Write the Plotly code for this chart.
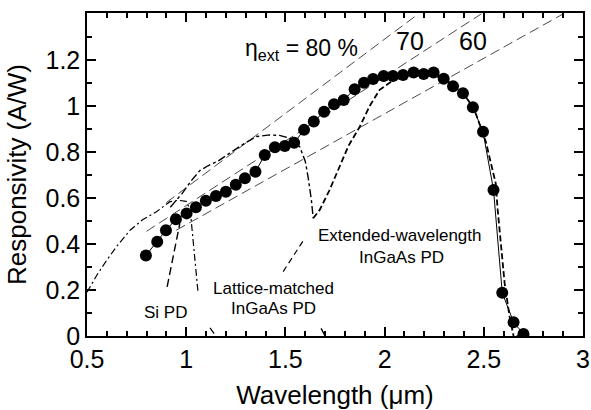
import plotly.graph_objects as go

# ---- data ----
wavelength = [0.797, 0.854, 0.898, 0.948, 1.002, 1.049, 1.099, 1.150, 1.200, 1.250,
              1.296, 1.349, 1.396, 1.447, 1.497, 1.544, 1.594, 1.643, 1.695, 1.745,
              1.794, 1.849, 1.896, 1.942, 1.995, 2.042, 2.093, 2.146, 2.197, 2.247,
              2.298, 2.345, 2.395, 2.445, 2.496, 2.549, 2.593, 2.650, 2.700]
responsivity = [0.350, 0.410, 0.460, 0.507, 0.533, 0.560, 0.588, 0.609, 0.627, 0.657,
                0.686, 0.714, 0.787, 0.820, 0.826, 0.840, 0.896, 0.932, 0.975, 1.007,
                1.026, 1.073, 1.101, 1.117, 1.130, 1.130, 1.135, 1.145, 1.139, 1.145,
                1.118, 1.086, 1.055, 0.994, 0.888, 0.635, 0.188, 0.060, 0.009]
fit_tail_x = [2.700, 2.664]
fit_tail_y = [0.009, 0.0]

eta80_x = [0.90, 2.17]
eta80_y = [0.58, 1.40]
eta70_x = [0.80, 2.487]
eta70_y = [0.455, 1.40]
eta60_x = [0.95, 2.90]
eta60_y = [0.46, 1.40]

si_x = [0.50, 0.55, 0.60, 0.65, 0.717, 0.78, 0.85, 0.918, 0.96, 1.00, 1.02, 1.04, 1.06, None, 1.12, 1.15]
si_y = [0.19, 0.265, 0.33, 0.39, 0.46, 0.505, 0.54, 0.584, 0.59, 0.585, 0.55, 0.38, 0.186, None, 0.035, 0.0]

lm_x = [0.92, 0.98, 1.03, 1.07, 1.11, 1.16, 1.22, 1.29, 1.354, 1.42, 1.47, 1.522,
        1.572, 1.600, 1.614, 1.631, 1.640, None, 1.68, 1.70]
lm_y = [0.56, 0.62, 0.68, 0.72, 0.74, 0.76, 0.795, 0.835, 0.867, 0.874, 0.872, 0.86,
        0.823, 0.76, 0.693, 0.591, 0.512, None, 0.033, 0.0]

ext_x = [1.640, 1.673, 1.72, 1.774, 1.82, 1.875, 1.925, 1.975, 2.04, 2.10, 2.20, 2.30,
         2.40, 2.45, 2.51, 2.56, 2.57, 2.605, 2.63, 2.65]
ext_y = [0.512, 0.548, 0.63, 0.736, 0.83, 0.91, 1.00, 1.07, 1.11, 1.13, 1.14, 1.12,
         1.05, 0.99, 0.845, 0.664, 0.548, 0.229, 0.084, 0.0]

si_ptr_x = [0.904, 0.968]
si_ptr_y = [0.214, 0.49]
lm_ptr_x = [1.489, 1.598]
lm_ptr_y = [0.28, 0.425]

x_range = [0.5, 3.0]
y_range = [0.0, 1.404]
x_major_ticks = [0.5, 1.0, 1.5, 2.0, 2.5, 3.0]
x_tick_text = ["0.5", "1", "1.5", "2", "2.5", "3"]
y_major_ticks = [0, 0.2, 0.4, 0.6, 0.8, 1.0, 1.2]
y_tick_text = ["0", "0.2", "0.4", "0.6", "0.8", "1", "1.2"]
x_minor_step = 0.1
y_minor_step = 0.1

FONT = "Liberation Sans, Arial, sans-serif"
fig = go.Figure()

def line(x, y, dash, width=1.0, color="black"):
    fig.add_trace(go.Scatter(x=x, y=y, mode="lines", connectgaps=False,
                             line=dict(color=color, width=width, dash=dash),
                             showlegend=False, hoverinfo="skip"))

for ex, ey in [(eta80_x, eta80_y), (eta70_x, eta70_y), (eta60_x, eta60_y)]:
    line(ex, ey, "10px,5px", 0.9, "#333")

line(si_x, si_y, "7px,3px,2px,3px", 1.2)
line(lm_x, lm_y, "8px,3px,3px,3px", 1.4)
line(ext_x, ext_y, "6px,3px", 1.8)
line(si_ptr_x, si_ptr_y, "8px,4px", 1.4)
line(lm_ptr_x, lm_ptr_y, "6px,4px", 1.2)
line(fit_tail_x, fit_tail_y, "solid", 1.0)

fig.add_trace(go.Scatter(x=wavelength, y=responsivity, mode="lines+markers",
                         line=dict(color="black", width=1),
                         marker=dict(symbol="circle", size=12, color="black"),
                         showlegend=False))

def label(text, x, y, size=17, anchor="center"):
    fig.add_annotation(x=x, y=y, text=text, showarrow=False, xanchor=anchor,
                       yanchor="middle", font=dict(family=FONT, size=size, color="black"))

label("Si PD", 0.898, 0.10)
label("Lattice-matched", 1.442, 0.208)
label("InGaAs PD", 1.442, 0.12)
label("Extended-wavelength", 2.076, 0.435)
label("InGaAs PD", 2.085, 0.341)
label("η<sub>ext</sub> = 80 %", 1.285, 1.245, 23, "left")
label("70", 2.126, 1.283, 25)
label("60", 2.444, 1.283, 25)

tickfont = dict(family=FONT, size=25, color="black")
common = dict(showline=True, linecolor="black", linewidth=1.5, mirror="ticks",
              ticks="inside", ticklen=9, tickwidth=2, tickcolor="black",
              showgrid=False, zeroline=False, tickfont=tickfont)

fig.update_layout(
    template="none",
    xaxis=dict(range=x_range, tickmode="array", tickvals=x_major_ticks, ticktext=x_tick_text,
               minor=dict(ticks="inside", ticklen=5, tickwidth=1.6, tickcolor="black",
                          tickmode="linear", tick0=0.5, dtick=x_minor_step, showgrid=False),
               title=dict(text="Wavelength (μm)", font=dict(family=FONT, size=26, color="black"), standoff=20),
               **common),
    yaxis=dict(range=y_range, tickmode="array", tickvals=y_major_ticks, ticktext=y_tick_text,
               minor=dict(ticks="inside", ticklen=5, tickwidth=1.6, tickcolor="black",
                          tickmode="linear", tick0=0, dtick=y_minor_step, showgrid=False),
               title=dict(text="Responsivity (A/W)", font=dict(family=FONT, size=26, color="black"), standoff=11),
               **common),
    width=591, height=410, margin=dict(l=87, r=8, t=13, b=74),
    font=dict(family=FONT, color="black"),
)

fig.write_html("out.html", post_script="document.body.style.margin='0px';",
               config={"displayModeBar": False})
